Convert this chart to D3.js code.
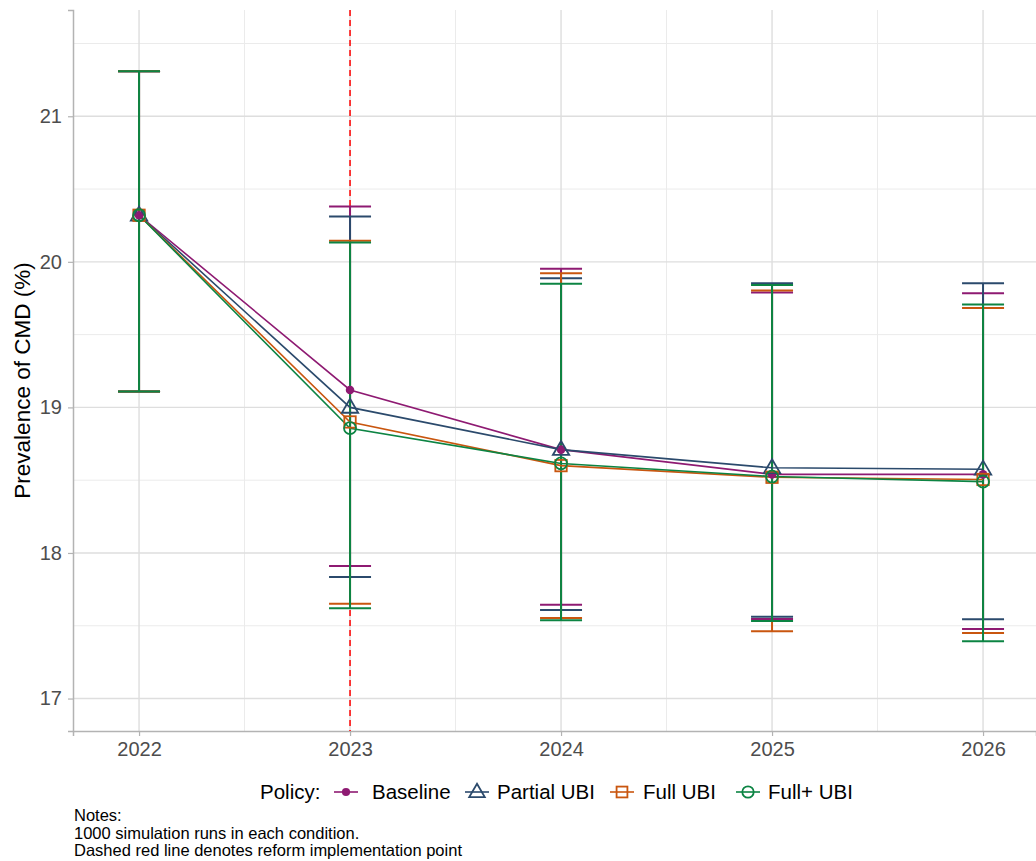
<!DOCTYPE html>
<html>
<head>
<meta charset="utf-8">
<script src="https://cdn.jsdelivr.net/npm/d3@7"></script>
<style>
  html, body { margin: 0; padding: 0; background: #fff; }
  svg { display: block; font-family: "Liberation Sans", Arial, sans-serif; }
</style>
</head>
<body>
<svg id="chart" width="1036" height="861"></svg>
<script>
// Simulated CMD prevalence by policy, with 95% intervals across runs
const years = [2022, 2023, 2024, 2025, 2026];
const policies = ["Baseline", "Partial UBI", "Full UBI", "Full+ UBI"];
const policyColors = ["#8E1A72", "#2B4A6C", "#C9560F", "#0C8443"];
const policyShapes = ["dot", "triangle", "square", "circle"];

const baselineMean  = [20.32, 19.12, 18.71, 18.54, 18.54];
const baselineLow   = [19.11, 17.91, 17.645, 17.546, 17.478];
const baselineHigh  = [21.31, 20.38, 19.952, 19.789, 19.785];

const partialMean   = [20.32, 19.00, 18.71, 18.585, 18.575];
const partialLow    = [19.11, 17.835, 17.608, 17.562, 17.544];
const partialHigh   = [21.31, 20.311, 19.888, 19.853, 19.853];

const fullMean      = [20.32, 18.90, 18.60, 18.52, 18.505];
const fullLow       = [19.11, 17.652, 17.553, 17.462, 17.450];
const fullHigh      = [21.31, 20.144, 19.922, 19.803, 19.682];

const fullPlusMean  = [20.32, 18.857, 18.615, 18.525, 18.49];
const fullPlusLow   = [19.11, 17.620, 17.537, 17.533, 17.393];
const fullPlusHigh  = [21.31, 20.133, 19.849, 19.840, 19.707];

const yTicks = [17, 18, 19, 20, 21];
const reformYear = 2023;
const notes = ["Notes:", "1000 simulation runs in each condition.", "Dashed red line denotes reform implementation point"];

const seriesMeans = [baselineMean, partialMean, fullMean, fullPlusMean];
const seriesLows = [baselineLow, partialLow, fullLow, fullPlusLow];
const seriesHighs = [baselineHigh, partialHigh, fullHigh, fullPlusHigh];

const series = policies.map((p, i) => ({
  name: p, color: policyColors[i], shape: policyShapes[i],
  values: years.map((y, j) => ({ year: y, mean: seriesMeans[i][j], low: seriesLows[i][j], high: seriesHighs[i][j] }))
}));

const svg = d3.select("#chart");
const panel = { left: 73, right: 1036, top: 10, bottom: 731 };

const x = d3.scaleLinear().domain([2021.687, 2026.251]).range([panel.left, panel.right]);
const y = d3.scaleLinear().domain([16.777, 21.73]).range([panel.bottom, panel.top]);

// Grid
const grid = svg.append("g");
const minorY = d3.range(16.5, 22, 1).filter(v => y(v) > panel.top && y(v) < panel.bottom);
const minorX = d3.range(2021.5, 2026.6, 1).filter(v => x(v) > panel.left && x(v) < panel.right);
grid.selectAll(".minx").data(minorX).join("line")
  .attr("x1", d => x(d)).attr("x2", d => x(d)).attr("y1", panel.top).attr("y2", panel.bottom)
  .attr("stroke", "#EBEBEB").attr("stroke-width", 1);
grid.selectAll(".miny").data(minorY).join("line")
  .attr("x1", panel.left).attr("x2", panel.right).attr("y1", d => y(d)).attr("y2", d => y(d))
  .attr("stroke", "#EBEBEB").attr("stroke-width", 1);
grid.selectAll(".majx").data(years).join("line")
  .attr("x1", d => x(d)).attr("x2", d => x(d)).attr("y1", panel.top).attr("y2", panel.bottom)
  .attr("stroke", "#DEDEDE").attr("stroke-width", 1.4);
grid.selectAll(".majy").data(yTicks).join("line")
  .attr("x1", panel.left).attr("x2", panel.right).attr("y1", d => y(d)).attr("y2", d => y(d))
  .attr("stroke", "#DEDEDE").attr("stroke-width", 1.4);

// Axes
const xAxis = d3.axisBottom(x).tickValues(years).tickFormat(d3.format("d")).tickSize(5).tickPadding(6);
const yAxis = d3.axisLeft(y).tickValues(yTicks).tickFormat(d3.format("d")).tickSize(5).tickPadding(6);

const gx = svg.append("g").attr("transform", `translate(0,${panel.bottom})`).call(xAxis);
gx.select(".domain").attr("stroke", "#B3B3B3").attr("stroke-width", 1.5);
gx.selectAll(".tick line").attr("stroke", "#B3B3B3").attr("stroke-width", 1.2);
gx.selectAll(".tick text").attr("fill", "#4D4D4D").attr("font-size", 20);

const gy = svg.append("g").attr("transform", `translate(${panel.left},0)`).call(yAxis);
gy.select(".domain").attr("stroke", "#B3B3B3").attr("stroke-width", 1.5);
gy.selectAll(".tick line").attr("stroke", "#B3B3B3").attr("stroke-width", 1.2);
gy.selectAll(".tick text").attr("fill", "#4D4D4D").attr("font-size", 20);

// Reform line
svg.append("line")
  .attr("x1", x(reformYear)).attr("x2", x(reformYear))
  .attr("y1", panel.top).attr("y2", panel.bottom)
  .attr("stroke", "#FF0000").attr("stroke-width", 1.5).attr("stroke-dasharray", "6,4");

// Error bars
const capHalf = 21;
const eb = svg.append("g");
series.forEach(s => {
  const g = eb.append("g").attr("stroke", s.color).attr("stroke-width", 2).attr("fill", "none");
  g.selectAll(".v").data(s.values).join("line")
    .attr("x1", d => x(d.year)).attr("x2", d => x(d.year))
    .attr("y1", d => y(d.low)).attr("y2", d => y(d.high));
  g.selectAll(".lo").data(s.values).join("line")
    .attr("x1", d => x(d.year) - capHalf).attr("x2", d => x(d.year) + capHalf)
    .attr("y1", d => y(d.low)).attr("y2", d => y(d.low));
  g.selectAll(".hi").data(s.values).join("line")
    .attr("x1", d => x(d.year) - capHalf).attr("x2", d => x(d.year) + capHalf)
    .attr("y1", d => y(d.high)).attr("y2", d => y(d.high));
});

// Lines
const line = d3.line().x(d => x(d.year)).y(d => y(d.mean));
series.forEach(s => {
  svg.append("path").datum(s.values)
    .attr("d", line).attr("fill", "none").attr("stroke", s.color).attr("stroke-width", 1.6);
});

// Point symbols
function drawShape(g, shape, color, cx, cy, scale) {
  const k = scale || 1;
  if (shape === "dot") {
    g.append("circle").attr("cx", cx).attr("cy", cy).attr("r", 4.3 * k).attr("fill", color);
  } else if (shape === "triangle") {
    const r = 8.6 * k;
    const pts = [[cx, cy - r], [cx + r * 0.95, cy + r * 0.62], [cx - r * 0.95, cy + r * 0.62]];
    g.append("polygon").attr("points", pts.map(p => p.join(",")).join(" "))
      .attr("fill", "none").attr("stroke", color).attr("stroke-width", 1.8);
  } else if (shape === "square") {
    const h = 5.7 * k;
    g.append("rect").attr("x", cx - h).attr("y", cy - h).attr("width", 2 * h).attr("height", 2 * h)
      .attr("fill", "none").attr("stroke", color).attr("stroke-width", 1.8);
  } else {
    g.append("circle").attr("cx", cx).attr("cy", cy).attr("r", 6 * k)
      .attr("fill", "none").attr("stroke", color).attr("stroke-width", 1.8);
  }
}

const pts = svg.append("g");
series.forEach(s => {
  s.values.forEach(d => drawShape(pts, s.shape, s.color, x(d.year), y(d.mean)));
});

// Y axis title
svg.append("text")
  .attr("transform", `translate(30,${(panel.top + panel.bottom) / 2 + 10}) rotate(-90)`)
  .attr("text-anchor", "middle").attr("font-size", 22.5).attr("fill", "#000")
  .text("Prevalence of CMD (%)");

// Legend
const legend = svg.append("g").attr("transform", "translate(0,792)");
legend.append("text").attr("x", 260).attr("y", 7).attr("font-size", 20.5).attr("fill", "#000").text("Policy:");
const keyX = [346, 477, 622, 748];
const labelX = [372, 497, 643, 768];
series.forEach((s, i) => {
  const lx = keyX[i];
  const g = legend.append("g");
  g.append("line").attr("x1", lx - 12).attr("x2", lx + 12).attr("y1", 0).attr("y2", 0)
    .attr("stroke", s.color).attr("stroke-width", 1.6);
  drawShape(g, s.shape, s.color, lx, 0, 0.95);
  g.append("text").attr("x", labelX[i]).attr("y", 7).attr("font-size", 20.5).attr("fill", "#000").text(s.name);
});

// Notes
svg.append("g").selectAll("text").data(notes).join("text")
  .attr("x", 74).attr("y", (d, i) => 821 + i * 17.5)
  .attr("font-size", 16.5).attr("fill", "#000").text(d => d);
</script>
</body>
</html>
